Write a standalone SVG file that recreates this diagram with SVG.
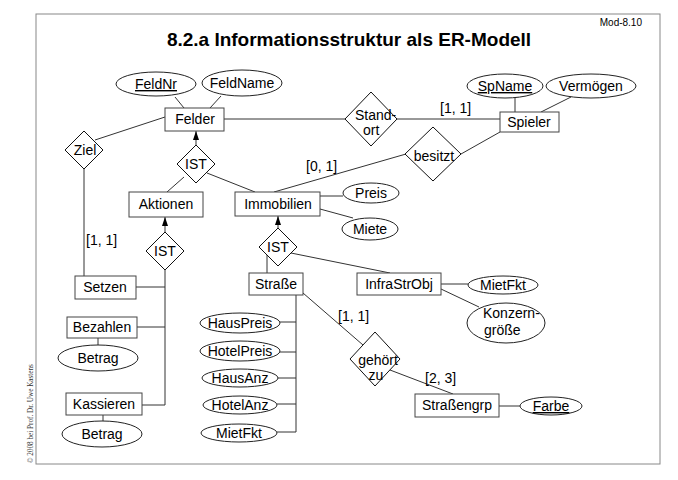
<svg xmlns="http://www.w3.org/2000/svg" width="678" height="480" viewBox="0 0 678 480">
<style>
  text { font-family: "Liberation Sans", Arial, sans-serif; font-size: 14px; fill: #000; }
  .c { text-anchor: middle; }
  .u { text-decoration: underline; }
  .ent { fill: #fff; stroke: #444; stroke-width: 1; }
  .att { fill: #fff; stroke: #222; stroke-width: 1; }
  .rel { fill: #fff; stroke: #111; stroke-width: 1; }
  #connectors line { stroke: #333; stroke-width: 1; fill: none; }
  .title { font-size: 19px; font-weight: bold; text-anchor: middle; }
  .small { font-size: 10px; text-anchor: end; }
  .copy { font-family: "Liberation Serif", "Times New Roman", serif; font-size: 7.2px; fill: #333; }
</style>
<defs>
  <marker id="arr" markerUnits="userSpaceOnUse" markerWidth="10" markerHeight="7" refX="9" refY="3" orient="auto" viewBox="0 0 10 7">
    <path d="M0,0 L9,3 L0,6 Z" fill="#000"/>
  </marker>
</defs>
<rect width="678" height="480" fill="#fff"/>
<rect x="36" y="14" width="624" height="450" fill="none" stroke="#888" stroke-width="1"/>
<text class="title" x="349" y="46">8.2.a Informationsstruktur als ER-Modell</text>
<text class="small" x="642" y="26">Mod-8.10</text>
<text class="copy" transform="translate(33,463) rotate(-90)">© 2008 bei Prof. Dr. Uwe Kastens</text>

<g id="connectors">
  <line x1="175" y1="97" x2="184" y2="108"/>
  <line x1="221" y1="96" x2="210" y2="108"/>
  <line x1="165" y1="117" x2="95" y2="140"/>
  <line x1="84" y1="169" x2="84" y2="276"/>
  <line x1="224" y1="119" x2="345" y2="119"/>
  <line x1="397" y1="119" x2="500" y2="119"/>
  <line x1="515" y1="98" x2="515" y2="112"/>
  <line x1="571" y1="97" x2="541" y2="112"/>
  <line x1="500" y1="132" x2="461" y2="154"/>
  <line x1="406" y1="154" x2="274" y2="192"/>
  <line x1="196" y1="145" x2="196" y2="131" marker-end="url(#arr)"/>
  <line x1="184" y1="177" x2="167" y2="192"/>
  <line x1="207" y1="173" x2="255" y2="192"/>
  <line x1="320" y1="196" x2="343" y2="196"/>
  <line x1="320" y1="209" x2="353" y2="218"/>
  <line x1="278" y1="228" x2="278" y2="216" marker-end="url(#arr)"/>
  <line x1="267" y1="255" x2="267" y2="273"/>
  <line x1="291" y1="253" x2="390" y2="273"/>
  <line x1="441" y1="284" x2="468" y2="284"/>
  <line x1="441" y1="289" x2="479" y2="307"/>
  <line x1="303" y1="293" x2="363" y2="345"/>
  <line x1="390" y1="370" x2="453" y2="394"/>
  <line x1="499" y1="406" x2="520" y2="406"/>
  <line x1="165" y1="232" x2="165" y2="217" marker-end="url(#arr)"/>
  <line x1="165" y1="270" x2="165" y2="405"/>
  <line x1="136" y1="287" x2="165" y2="287"/>
  <line x1="137" y1="327" x2="165" y2="327"/>
  <line x1="142" y1="405" x2="165" y2="405"/>
  <line x1="98" y1="338" x2="98" y2="345"/>
  <line x1="103" y1="415" x2="103" y2="421"/>
  <line x1="296" y1="295" x2="296" y2="432"/>
  <line x1="280" y1="322" x2="296" y2="322"/>
  <line x1="279" y1="352" x2="296" y2="352"/>
  <line x1="278" y1="378" x2="296" y2="378"/>
  <line x1="277" y1="404" x2="296" y2="404"/>
  <line x1="277" y1="432" x2="296" y2="432"/>
</g>
<g id="labels">
  <text x="440" y="113">[1, 1]</text>
  <text x="306" y="171">[0, 1]</text>
  <text x="86" y="245">[1, 1]</text>
  <text x="338" y="321">[1, 1]</text>
  <text x="425" y="383">[2, 3]</text>
</g>

<g id="Felder"><rect class="ent" x="165" y="108" width="59" height="23"/><text class="c" x="195" y="124">Felder</text></g>
<g id="FeldNr"><ellipse class="att" cx="156" cy="84" rx="40" ry="12"/><text class="c u" x="156" y="89">FeldNr</text></g>
<g id="FeldName"><ellipse class="att" cx="242" cy="83" rx="40" ry="13"/><text class="c" x="242" y="88">FeldName</text></g>
<g id="Ziel"><polygon class="rel" points="84,131 103,150 84,169 65,150"/><text class="c" x="85" y="155">Ziel</text></g>
<g id="Standort"><polygon class="rel" points="371,92 397,119 371,146 345,119"/><text x="355" y="120">Stand-</text><text x="363" y="135">ort</text></g>
<g id="Spieler"><rect class="ent" x="500" y="112" width="59" height="20"/><text class="c" x="529" y="127">Spieler</text></g>
<g id="SpName"><ellipse class="att" cx="505" cy="86" rx="38" ry="12"/><text class="c u" x="505" y="91">SpName</text></g>
<g id="Vermoegen"><ellipse class="att" cx="591" cy="86" rx="45" ry="12"/><text class="c" x="591" y="91">Vermögen</text></g>
<g id="besitzt"><polygon class="rel" points="433,127 461,154 433,181 405,154"/><text class="c" x="434" y="161">besitzt</text></g>
<g id="IST1"><polygon class="rel" points="196,145 215,164 196,183 177,164"/><text class="c" x="196" y="169">IST</text></g>
<g id="Aktionen"><rect class="ent" x="129" y="192" width="74" height="25"/><text class="c" x="166" y="209">Aktionen</text></g>
<g id="Immobilien"><rect class="ent" x="235" y="192" width="85" height="24"/><text class="c" x="278" y="209">Immobilien</text></g>
<g id="Preis"><ellipse class="att" cx="371" cy="193" rx="28" ry="10"/><text class="c" x="371" y="198">Preis</text></g>
<g id="Miete"><ellipse class="att" cx="370" cy="229" rx="28" ry="11"/><text class="c" x="370" y="234">Miete</text></g>
<g id="IST2"><polygon class="rel" points="278,228 297,247 278,266 259,247"/><text class="c" x="278" y="252">IST</text></g>
<g id="IST3"><polygon class="rel" points="165,232 184,251 165,270 146,251"/><text class="c" x="165" y="256">IST</text></g>
<g id="Setzen"><rect class="ent" x="75" y="276" width="61" height="23"/><text class="c" x="105" y="292">Setzen</text></g>
<g id="Bezahlen"><rect class="ent" x="67" y="317" width="70" height="21"/><text class="c" x="102" y="332">Bezahlen</text></g>
<g id="Betrag1"><ellipse class="att" cx="98" cy="358" rx="40" ry="13"/><text class="c" x="98" y="363">Betrag</text></g>
<g id="Kassieren"><rect class="ent" x="66" y="393" width="76" height="22"/><text class="c" x="104" y="409">Kassieren</text></g>
<g id="Betrag2"><ellipse class="att" cx="102" cy="434" rx="40" ry="13"/><text class="c" x="102" y="439">Betrag</text></g>
<g id="Strasse"><rect class="ent" x="249" y="273" width="54" height="22"/><text class="c" x="276" y="289">Straße</text></g>
<g id="InfraStrObj"><rect class="ent" x="357" y="273" width="84" height="22"/><text class="c" x="399" y="289">InfraStrObj</text></g>
<g id="MietFkt1"><ellipse class="att" cx="503" cy="285" rx="35" ry="9"/><text class="c" x="503" y="290">MietFkt</text></g>
<g id="Konzerngroesse"><ellipse class="att" cx="506" cy="323" rx="39" ry="20"/><text x="483" y="318">Konzern-</text><text x="484" y="335">größe</text></g>
<g id="HausPreis"><ellipse class="att" cx="240" cy="323" rx="40" ry="10"/><text class="c" x="240" y="328">HausPreis</text></g>
<g id="HotelPreis"><ellipse class="att" cx="240" cy="351" rx="40" ry="10"/><text class="c" x="240" y="356">HotelPreis</text></g>
<g id="HausAnz"><ellipse class="att" cx="240" cy="378" rx="38" ry="9"/><text class="c" x="240" y="383">HausAnz</text></g>
<g id="HotelAnz"><ellipse class="att" cx="240" cy="405" rx="37" ry="9"/><text class="c" x="240" y="410">HotelAnz</text></g>
<g id="MietFkt2"><ellipse class="att" cx="239" cy="433" rx="38" ry="9"/><text class="c" x="239" y="438">MietFkt</text></g>
<g id="gehoertzu"><polygon class="rel" points="375,332 400,359 375,386 350,359"/><text class="c" x="378" y="365">gehört</text><text class="c" x="376" y="380">zu</text></g>
<g id="Strassengrp"><rect class="ent" x="415" y="394" width="84" height="23"/><text class="c" x="457" y="410">Straßengrp</text></g>
<g id="Farbe"><ellipse class="att" cx="551" cy="406" rx="31" ry="9"/><text class="c u" x="551" y="411">Farbe</text></g>
</svg>
